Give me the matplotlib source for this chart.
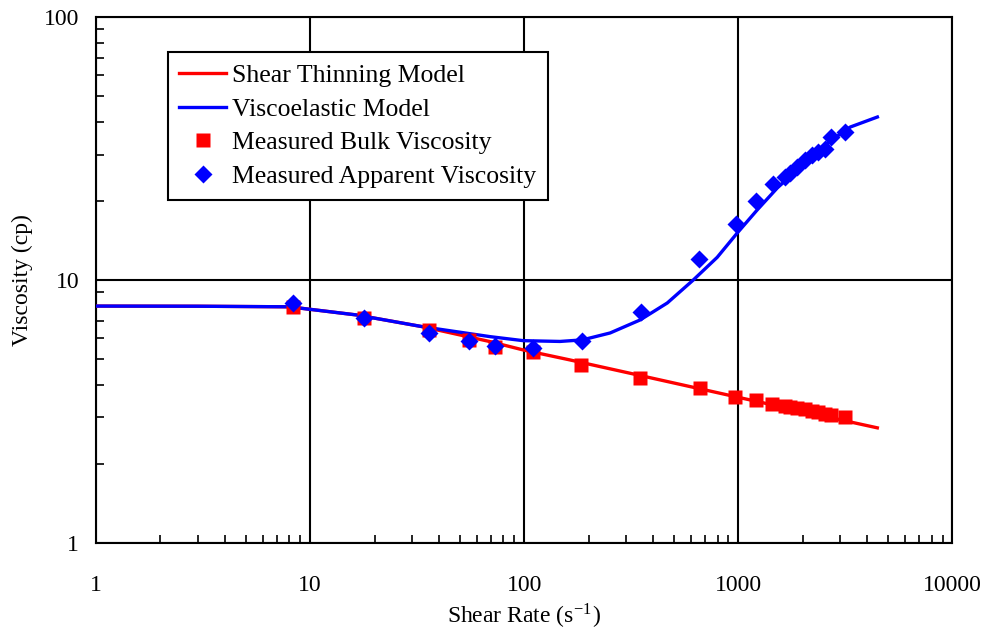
import matplotlib.pyplot as plt
from matplotlib.ticker import LogLocator, NullFormatter, FixedLocator, FixedFormatter

plt.rcParams['font.family'] = ['Liberation Serif', 'DejaVu Serif']
plt.rcParams['mathtext.fontset'] = 'stix'

# shear thinning model curve
thin_rate = [1, 3, 8, 16.6, 33.7, 69.4, 99, 163, 350, 1000, 2000, 4460]
thin_visc = [7.96, 7.95, 7.91, 7.36, 6.64, 5.83, 5.42, 4.97, 4.33, 3.58, 3.16, 2.74]

# viscoelastic model curve
visco_rate = [1, 3, 8, 16.6, 33.7, 69.4, 99, 147, 187, 252, 348, 466, 616, 797,
              989, 1227, 1521, 1950, 2606, 3336, 4463]
visco_visc = [7.96, 7.95, 7.91, 7.36, 6.64, 6.09, 5.88, 5.84, 5.92, 6.29, 7.05, 8.18,
              10.0, 12.2, 15.1, 18.5, 22.4, 26.9, 33.2, 38.2, 41.7]

# measured bulk viscosity
bulk_rate = [8.33, 17.9, 36, 55.3, 73.2, 110, 185, 348, 664, 968, 1214, 1443,
             1660, 1750, 1880, 2040, 2200, 2350, 2550, 2720, 3150]
bulk_visc = [7.89, 7.17, 6.45, 5.91, 5.56, 5.32, 4.75, 4.24, 3.88, 3.59, 3.50, 3.38,
             3.33, 3.30, 3.26, 3.22, 3.18, 3.14, 3.10, 3.06, 3.02]

# measured apparent viscosity
app_rate = [8.33, 17.9, 36, 55.3, 73.2, 110, 187, 352, 657, 979, 1214, 1458,
            1660, 1750, 1880, 2040, 2200, 2350, 2550, 2720, 3150]
app_visc = [8.18, 7.17, 6.28, 5.86, 5.61, 5.51, 5.86, 7.56, 12.0, 16.3, 19.9, 23.2,
            24.6, 25.5, 26.9, 28.6, 29.9, 30.7, 31.5, 35.0, 36.5]

fig = plt.figure(figsize=(9.89, 6.35), dpi=100)
ax = fig.add_axes([0.097, 0.145, 0.866, 0.828])

ax.plot(thin_rate, thin_visc, color='#ff0000', lw=2.4, label='Shear Thinning Model', zorder=3)
ax.plot(visco_rate, visco_visc, color='#0000ff', lw=2.4, label='Viscoelastic Model', zorder=4)
ax.plot(bulk_rate, bulk_visc, 's', color='#ff0000', ms=10, mec='none',
        label='Measured Bulk Viscosity', zorder=5)
ax.plot(app_rate, app_visc, 'D', color='#0000ff', ms=9, mec='none',
        label='Measured Apparent Viscosity', zorder=6)

ax.set_xscale('log')
ax.set_yscale('log')
ax.set_xlim(1, 10000)
ax.set_ylim(1, 100)

ax.xaxis.set_major_locator(FixedLocator([1, 10, 100, 1000, 10000]))
ax.xaxis.set_major_formatter(FixedFormatter(['1', '10', '100', '1000', '10000']))
ax.yaxis.set_major_locator(FixedLocator([1, 10, 100]))
ax.yaxis.set_major_formatter(FixedFormatter(['1', '10', '100']))
ax.xaxis.set_minor_locator(LogLocator(base=10, subs=range(2, 10)))
ax.yaxis.set_minor_locator(LogLocator(base=10, subs=range(2, 10)))
ax.xaxis.set_minor_formatter(NullFormatter())
ax.yaxis.set_minor_formatter(NullFormatter())

ax.tick_params(axis='both', which='both', direction='in', colors='black')
ax.tick_params(axis='x', which='major', length=0, pad=23, labelsize=17)
ax.tick_params(axis='y', which='major', length=0, pad=12, labelsize=17)
ax.tick_params(which='minor', length=6, width=1.2)

ax.grid(True, which='major', color='black', lw=1.5)
for s in ax.spines.values():
    s.set_linewidth(1.5)
    s.set_color('black')

ax.set_xlabel('Shear Rate (s$^{\\mathregular{-1}}$)', fontsize=17, labelpad=4)
ax.set_ylabel('Viscosity (cp)', fontsize=17, labelpad=8)

leg = ax.legend(loc='upper left', bbox_to_anchor=(0.084, 0.933), borderaxespad=0,
                fontsize=18.5, handlelength=1.8, labelspacing=0.42, handletextpad=0.25,
                fancybox=False, framealpha=1, edgecolor='black', borderpad=0.45)
leg.get_frame().set_linewidth(1.5)

fig.savefig('out.png', dpi=100)
